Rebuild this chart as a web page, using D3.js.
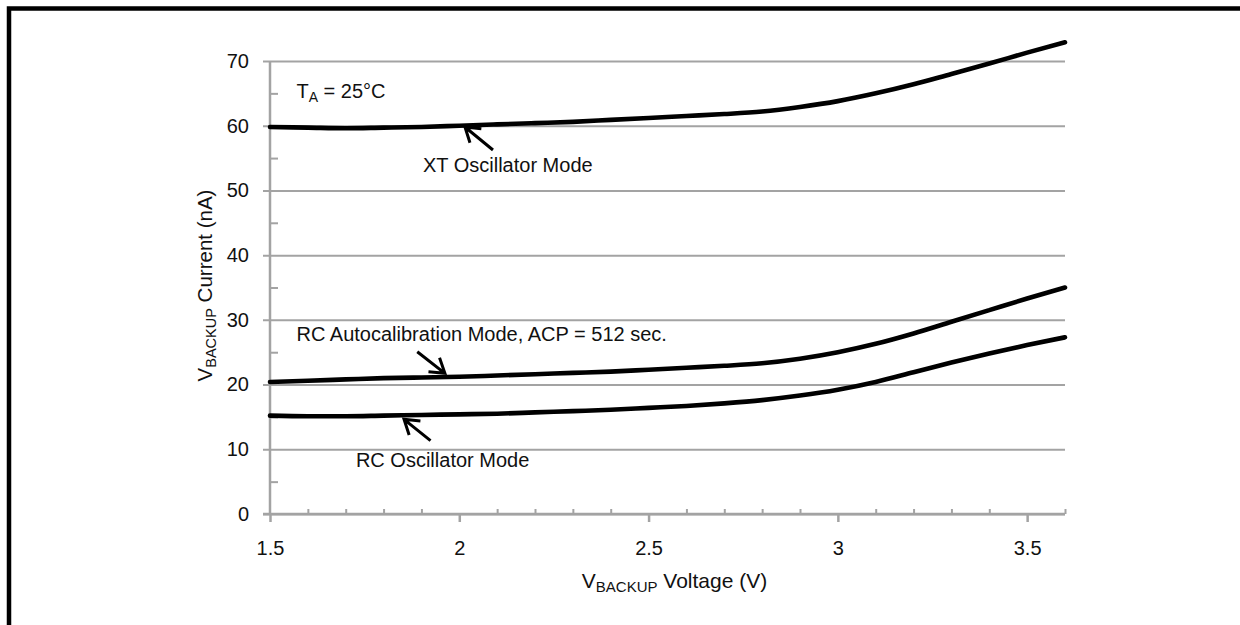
<!DOCTYPE html>
<html>
<head>
<meta charset="utf-8">
<script src="https://cdn.jsdelivr.net/npm/d3@7/dist/d3.min.js"></script>
<style>
  html, body { margin: 0; padding: 0; background: #fff; }
  svg { display: block; font-family: "Liberation Sans", Arial, sans-serif; }
</style>
</head>
<body>
<svg id="chart" width="1240" height="625"></svg>
<script>
// Supply voltage (V) at which each current was sampled
const voltage = [1.5, 1.6, 1.7, 1.8, 1.9, 2.0, 2.1, 2.2, 2.3, 2.4, 2.5,
                 2.6, 2.7, 2.8, 2.9, 3.0, 3.1, 3.2, 3.3, 3.4, 3.5, 3.6];

// VBACKUP current (nA) per operating mode
const xtOscillator = [59.8, 59.7, 59.6, 59.7, 59.8, 60.0, 60.2, 60.4, 60.6, 60.9, 61.2,
                      61.5, 61.8, 62.2, 62.9, 63.8, 65.0, 66.4, 68.0, 69.6, 71.3, 72.9];
const rcAutocal    = [20.4, 20.6, 20.8, 21.0, 21.1, 21.2, 21.4, 21.6, 21.8, 22.0, 22.3,
                      22.6, 22.9, 23.3, 24.0, 25.0, 26.3, 27.9, 29.7, 31.5, 33.3, 35.0];
const rcOscillator = [15.2, 15.1, 15.1, 15.2, 15.3, 15.4, 15.5, 15.7, 15.9, 16.1, 16.4,
                      16.7, 17.1, 17.6, 18.3, 19.2, 20.4, 21.9, 23.4, 24.8, 26.1, 27.3];

// Axis ticks
const xMajorTicks = [1.5, 2, 2.5, 3, 3.5];
const xMinorTicks = [1.6, 1.7, 1.8, 1.9, 2.1, 2.2, 2.3, 2.4, 2.6, 2.7, 2.8, 2.9,
                     3.1, 3.2, 3.3, 3.4, 3.6];
const yMajorTicks = [0, 10, 20, 30, 40, 50, 60, 70];
const yMinorTicks = [5, 15, 25, 35, 45, 55, 65];

// Callout labels: text start (voltage, current) at the baseline
const labels = [
  { v: 1.570, i: 64.3, parts: [["T", false], ["A", true], [" = 25°C", false]] },
  { v: 1.904, i: 52.85, parts: [["XT Oscillator Mode", false]] },
  { v: 1.570, i: 26.73, parts: [["RC Autocalibration Mode, ACP = 512 sec.", false]] },
  { v: 1.727, i: 7.31, parts: [["RC Oscillator Mode", false]] }
];

// Callout arrows: tail -> tip, in (voltage, current)
const arrows = [
  { tail: [2.089, 56.25], tip: [2.015, 59.8] },
  { tail: [1.889, 25.08], tip: [1.962, 21.74] },
  { tail: [1.924, 11.33], tip: [1.854, 14.63] }
];

const svg = d3.select("#chart");
const grey = "#a3a3a3";
const ink = "#111";
const font = "Liberation Sans, Arial, sans-serif";

const x = d3.scaleLinear().domain([1.5, 3.6]).range([270, 1065]);
const y = d3.scaleLinear().domain([0, 70]).range([514, 61]);

// Page frame
svg.append("path")
  .attr("d", "M9,625 V8.5 H1240")
  .attr("fill", "none")
  .attr("stroke", "#000")
  .attr("stroke-width", 4.5);

// Horizontal gridlines with value labels
const yAxis = svg.append("g")
  .attr("transform", "translate(263,0)")
  .call(d3.axisLeft(y).tickValues(yMajorTicks).tickSize(-(1065 - 263)).tickPadding(14)
        .tickFormat(d3.format("d")));
yAxis.select(".domain").remove();
yAxis.selectAll(".tick line").attr("stroke", grey).attr("stroke-width", 2);
yAxis.selectAll(".tick text")
  .attr("font-size", 20).attr("fill", ink).attr("font-family", font);

// Vertical axis line
svg.append("line")
  .attr("x1", x(1.5)).attr("x2", x(1.5))
  .attr("y1", y(70)).attr("y2", y(0))
  .attr("stroke", grey).attr("stroke-width", 2.5);

// Minor y ticks pointing into the plot
const yMinor = svg.append("g")
  .attr("transform", `translate(${x(1.5)},0)`)
  .call(d3.axisRight(y).tickValues(yMinorTicks).tickSize(8).tickFormat(""));
yMinor.select(".domain").remove();
yMinor.selectAll(".tick line").attr("stroke", grey).attr("stroke-width", 2);

// X axis with major ticks below
const xAxis = svg.append("g")
  .attr("transform", `translate(0,${y(0)})`)
  .call(d3.axisBottom(x).tickValues(xMajorTicks).tickSize(8).tickSizeOuter(0).tickPadding(19)
        .tickFormat(d => String(d)));
xAxis.select(".domain").remove();
xAxis.selectAll(".tick line").attr("stroke", grey).attr("stroke-width", 2.5);
xAxis.selectAll(".tick text")
  .attr("font-size", 20).attr("fill", ink).attr("font-family", font);

svg.append("line")
  .attr("x1", 263).attr("x2", x(3.6))
  .attr("y1", y(0)).attr("y2", y(0))
  .attr("stroke", grey).attr("stroke-width", 2.5);

// Minor x ticks pointing up
const xMinor = svg.append("g")
  .attr("transform", `translate(0,${y(0)})`)
  .call(d3.axisTop(x).tickValues(xMinorTicks).tickSize(5).tickFormat(""));
xMinor.select(".domain").remove();
xMinor.selectAll(".tick line").attr("stroke", grey).attr("stroke-width", 2);

// Curves
const line = d3.line()
  .x((d, k) => x(voltage[k]))
  .y(d => y(d))
  .curve(d3.curveMonotoneX);

[xtOscillator, rcAutocal, rcOscillator].forEach(series => {
  svg.append("path")
    .attr("d", line(series))
    .attr("fill", "none")
    .attr("stroke", "#000")
    .attr("stroke-width", 4.6)
    .attr("stroke-linecap", "round");
});

// Callout arrows with open heads
arrows.forEach(a => {
  const tx = x(a.tip[0]), ty = y(a.tip[1]);
  const sx = x(a.tail[0]), sy = y(a.tail[1]);
  const ang = Math.atan2(sy - ty, sx - tx);
  const len = 16.5, spread = 33 * Math.PI / 180;
  const h1 = [tx + len * Math.cos(ang - spread), ty + len * Math.sin(ang - spread)];
  const h2 = [tx + len * Math.cos(ang + spread), ty + len * Math.sin(ang + spread)];
  svg.append("path")
    .attr("d", `M${sx},${sy} L${tx},${ty} M${h1[0]},${h1[1]} L${tx},${ty} L${h2[0]},${h2[1]}`)
    .attr("fill", "none")
    .attr("stroke", "#000")
    .attr("stroke-width", 3)
    .attr("stroke-linejoin", "miter");
});

// Callout text
labels.forEach(l => {
  const t = svg.append("text")
    .attr("x", x(l.v)).attr("y", y(l.i))
    .attr("font-size", 20).attr("fill", ink);
  l.parts.forEach(([s, sub], k) => {
    const ts = t.append("tspan").text(s);
    if (sub) ts.attr("font-size", 14).attr("dy", 4);
    else if (k > 0 && l.parts[k - 1][1]) ts.attr("dy", -4);
  });
});

// Axis titles
const xTitle = svg.append("text")
  .attr("x", (x(1.5) + x(3.6)) / 2 + 7).attr("y", 588)
  .attr("text-anchor", "middle").attr("font-size", 21).attr("fill", ink);
xTitle.append("tspan").text("V");
xTitle.append("tspan").text("BACKUP").attr("font-size", 15).attr("dy", 4);
xTitle.append("tspan").text(" Voltage (V)").attr("dy", -4);

const yTitle = svg.append("text")
  .attr("transform", `translate(212,${(y(0) + y(70)) / 2 - 2}) rotate(-90)`)
  .attr("text-anchor", "middle").attr("font-size", 20.5).attr("fill", ink);
yTitle.append("tspan").text("V");
yTitle.append("tspan").text("BACKUP").attr("font-size", 14.5).attr("dy", 4);
yTitle.append("tspan").text(" Current (nA)").attr("dy", -4);
</script>
</body>
</html>
